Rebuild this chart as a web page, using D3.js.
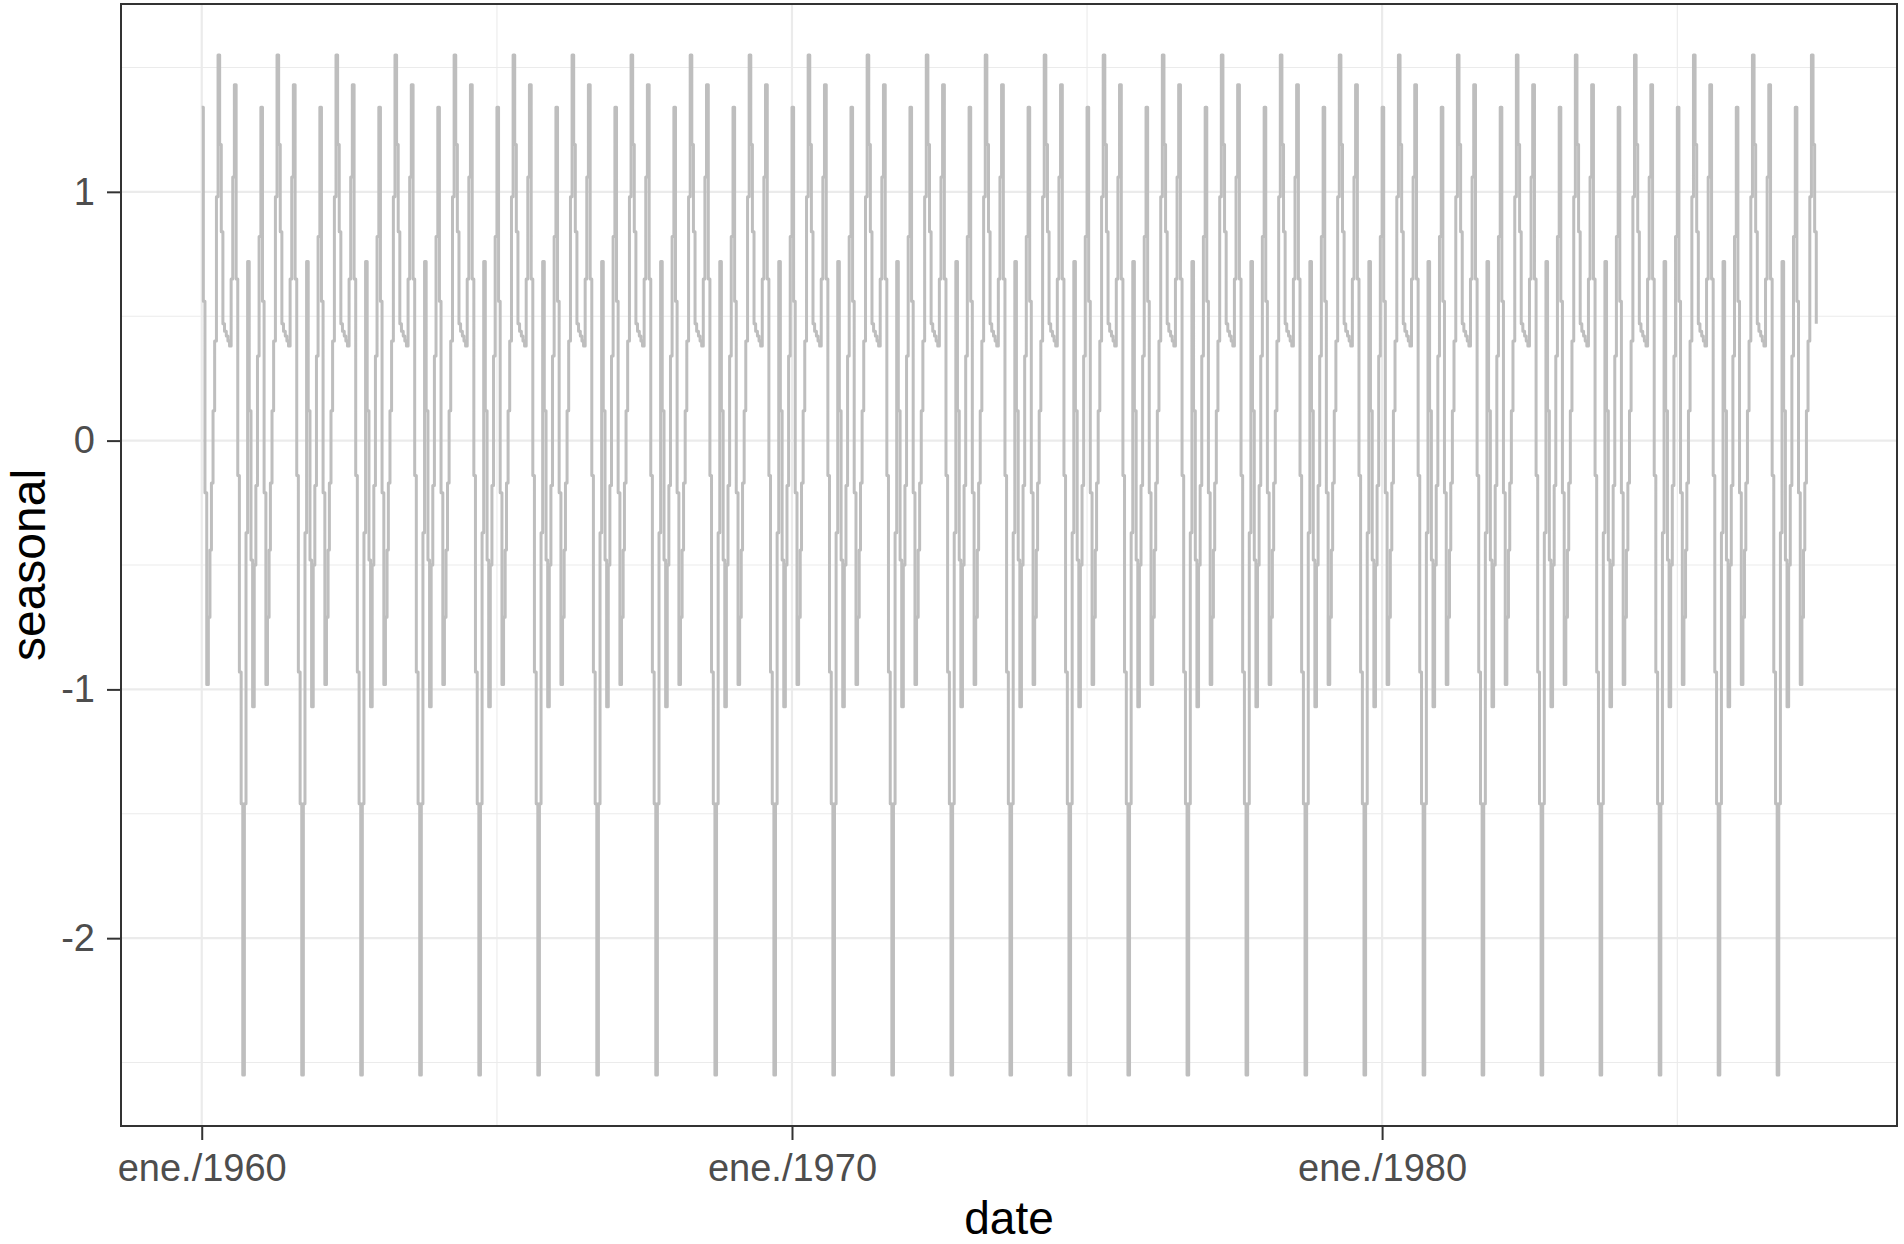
<!DOCTYPE html>
<html>
<head>
<meta charset="utf-8">
<script src="https://cdn.jsdelivr.net/npm/d3@7"></script>
<style>
  html, body { margin: 0; padding: 0; background: #ffffff; }
  svg { display: block; }
</style>
</head>
<body>
<svg id="chart" width="1904" height="1244"></svg>
<script>
// ---- data ----
// seasonal component, one value per dekad (3 per month, 36 per year); identical every year
const seasonalPattern = [
  1.34, 0.56, -0.21, -0.98, -0.71, -0.44, -0.17, 0.12, 0.40,
  0.98, 1.55, 1.19, 0.84, 0.47, 0.44, 0.42, 0.40, 0.38,
  0.65, 1.06, 1.43, 0.65, -0.14, -0.93, -1.46, -2.55, -1.46,
  -0.37, 0.72, 0.12, -0.48, -1.07, -0.50, -0.18, 0.34, 0.82
];
const firstYear = 1960;
const lastYear = 1987;
const lastDekadOfLastYear = 13;
const yTickValues = [-2, -1, 0, 1];
const yTickLabels = ["-2", "-1", "0", "1"];
const yMinorValues = [-2.5, -1.5, -0.5, 0.5, 1.5];
const xTickYears = [1960, 1970, 1980];
const xTickLabels = ["ene./1960", "ene./1970", "ene./1980"];
const xMinorYears = [1965, 1975, 1985];
const xTitle = "date";
const yTitle = "seasonal";

// build the series
const series = [];
for (let y = firstYear; y <= lastYear; y++) {
  for (let k = 0; k < seasonalPattern.length; k++) {
    if (y === lastYear && k > lastDekadOfLastYear) break;
    series.push({ date: new Date(y, Math.floor(k / 3), 1 + 10 * (k % 3)), value: seasonalPattern[k] });
  }
}

// ---- layout ----
const W = 1904, H = 1244;
const panel = { left: 121, right: 1897, top: 4, bottom: 1126 };
const FONT = "'Liberation Sans', Arial, Helvetica, sans-serif";

const svg = d3.select("#chart");
svg.append("rect").attr("width", W).attr("height", H).attr("fill", "#ffffff");

// scales with ggplot-style 5% expansion
const tExt = d3.extent(series, d => +d.date);
const tPad = (tExt[1] - tExt[0]) * 0.05;
const x = d3.scaleTime()
  .domain([new Date(tExt[0] - tPad), new Date(tExt[1] + tPad)])
  .range([panel.left, panel.right]);

const vExt = d3.extent(series, d => d.value);
const vPad = (vExt[1] - vExt[0]) * 0.05;
const y = d3.scaleLinear()
  .domain([vExt[0] - vPad, vExt[1] + vPad])
  .range([panel.bottom, panel.top]);

const gridColor = "#ebebeb";
const grid = svg.append("g");

// minor grid
grid.selectAll("line.ymin").data(yMinorValues).join("line")
  .attr("x1", panel.left).attr("x2", panel.right)
  .attr("y1", d => y(d)).attr("y2", d => y(d))
  .attr("stroke", gridColor).attr("stroke-width", 1.1);
grid.selectAll("line.xmin").data(xMinorYears).join("line")
  .attr("y1", panel.top).attr("y2", panel.bottom)
  .attr("x1", d => x(new Date(d, 0, 1))).attr("x2", d => x(new Date(d, 0, 1)))
  .attr("stroke", gridColor).attr("stroke-width", 1.1);
// major grid
grid.selectAll("line.ymaj").data(yTickValues).join("line")
  .attr("x1", panel.left).attr("x2", panel.right)
  .attr("y1", d => y(d)).attr("y2", d => y(d))
  .attr("stroke", gridColor).attr("stroke-width", 2.2);
grid.selectAll("line.xmaj").data(xTickYears).join("line")
  .attr("y1", panel.top).attr("y2", panel.bottom)
  .attr("x1", d => x(new Date(d, 0, 1))).attr("x2", d => x(new Date(d, 0, 1)))
  .attr("stroke", gridColor).attr("stroke-width", 2.2);

// the seasonal line (value held constant through each dekad)
const line = d3.line().curve(d3.curveStepAfter).x(d => x(d.date)).y(d => y(d.value));
svg.append("path")
  .datum(series)
  .attr("d", line)
  .attr("fill", "none")
  .attr("stroke", "#bebebe")
  .attr("stroke-width", 3)
  .attr("stroke-linejoin", "round")
  .attr("stroke-linecap", "butt");

// panel border
svg.append("rect")
  .attr("x", panel.left).attr("y", panel.top)
  .attr("width", panel.right - panel.left).attr("height", panel.bottom - panel.top)
  .attr("fill", "none").attr("stroke", "#333333").attr("stroke-width", 2);

// axes
const xAxis = d3.axisBottom(x)
  .tickValues(xTickYears.map(yr => new Date(yr, 0, 1)))
  .tickFormat((d, i) => xTickLabels[i])
  .tickSize(14).tickPadding(14);
const gx = svg.append("g").attr("transform", `translate(0,${panel.bottom})`).call(xAxis);

const yAxis = d3.axisLeft(y)
  .tickValues(yTickValues)
  .tickFormat((d, i) => yTickLabels[i])
  .tickSize(14).tickPadding(12);
const gy = svg.append("g").attr("transform", `translate(${panel.left},0)`).call(yAxis);

[gx, gy].forEach(g => {
  g.select(".domain").remove();
  g.selectAll(".tick line").attr("stroke", "#333333").attr("stroke-width", 2);
  g.selectAll(".tick text")
    .attr("fill", "#4d4d4d")
    .style("font-family", FONT)
    .style("font-size", "38px");
});

// axis titles
svg.append("text")
  .attr("x", (panel.left + panel.right) / 2)
  .attr("y", 1234)
  .attr("text-anchor", "middle")
  .style("font-family", FONT).style("font-size", "46px")
  .attr("fill", "#000000")
  .text(xTitle);

svg.append("text")
  .attr("transform", `translate(45,${(panel.top + panel.bottom) / 2}) rotate(-90)`)
  .attr("text-anchor", "middle")
  .style("font-family", FONT).style("font-size", "48px")
  .attr("fill", "#000000")
  .text(yTitle);
</script>
</body>
</html>
